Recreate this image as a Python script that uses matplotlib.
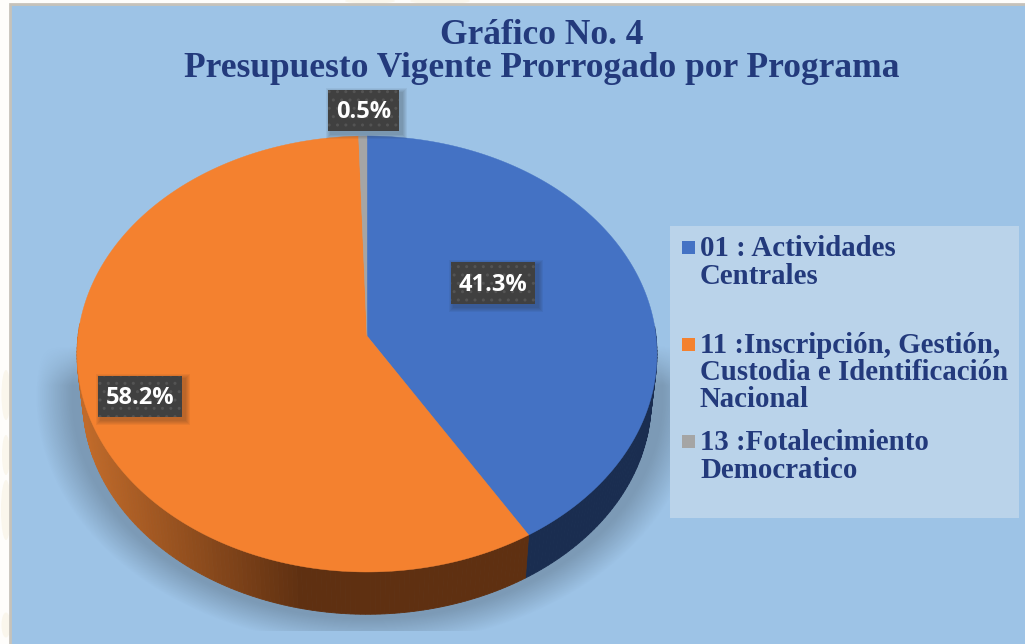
import numpy as np
import matplotlib
matplotlib.use('Agg')
import matplotlib.pyplot as plt
from matplotlib.patches import Rectangle, Ellipse
from matplotlib.colors import to_rgb

title_lines = ['Gráfico No. 4', 'Presupuesto Vigente Prorrogado por Programa']
values = [41.3, 58.2, 0.5]
colors = ['#4472c4', '#f4812f', '#a5a5a5']
legend_lines = [['01 : Actividades', 'Centrales'],
                ['11 :Inscripción, Gestión,', 'Custodia e Identificación', 'Nacional'],
                ['13 :Fotalecimiento', 'Democratico']]
navy = '#233a7c'
bg = '#9dc3e6'

plt.rcParams['font.family'] = ['Liberation Serif', 'DejaVu Serif']

fig = plt.figure(figsize=(10.25, 6.44), dpi=100, facecolor='#fefdfb')
ax = fig.add_axes([0, 0, 1, 1])
ax.set_xlim(0, 1025)
ax.set_ylim(644, 0)
ax.axis('off')

# faint watermark showing round the panel
for wx, wy, ww, wh in [(6, 395, 9, 50), (6, 455, 8, 40), (6, 510, 10, 60), (6, 625, 9, 25),
                       (370, 1, 50, 5), (440, 1, 60, 6)]:
    ax.add_patch(Ellipse((wx, wy), ww, wh, fc='#faf6ec', ec='none', zorder=0))

# panel
ax.add_patch(Rectangle((10, 4), 1020, 650, fc=bg, ec='#c6c2ba', lw=2, zorder=0.5))

# pie geometry, pixels
cx, cy = 367, 336
A, B, k = 289, 216.5, 0.0826
base_scale, base_dy = 0.98, 47


def project(frac, scale=1.0, dy=0):
    # frac runs clockwise from 12 o'clock
    t = 2 * np.pi * np.asarray(frac)
    x, y = np.sin(t), np.cos(t)
    w = 1 + k * y
    return cx + scale * A * x / w, cy + dy - scale * B * y / w


# soft shadow below the pie
yy, xx = np.mgrid[0:644, 0:1025]
r = np.sqrt(((xx - 367) / 332.0) ** 2 + ((yy - 396) / 250.0) ** 2)
alpha = np.clip((1 - r) / 0.11, 0, 1) * np.clip((yy - 345) / 40.0, 0, 1) * 0.21
alpha[yy > 630] = 0
rgba = np.zeros((644, 1025, 4))
rgba[..., 3] = alpha
ax.imshow(rgba, extent=(0, 1025, 644, 0), zorder=1, aspect='auto')
ax.set_xlim(0, 1025)
ax.set_ylim(644, 0)

# side wall, front half only
edges = np.concatenate([[0], np.cumsum(values)]) / sum(values)
for i in range(len(values)):
    n = max(int((edges[i + 1] - edges[i]) * 400), 2)
    fr = np.linspace(edges[i], edges[i + 1], n + 1)
    x0, y0 = project(fr)
    x1, y1 = project(fr, base_scale, base_dy)
    for j in range(n):
        if np.cos(2 * np.pi * fr[j]) > 0.05:
            continue
        if i == 1:
            m = np.clip((0.5 * (x0[j] + x0[j + 1]) - 85) / 215, 0, 1)
            c = (1 - m) * np.array(to_rgb('#c06a2a')) + m * np.array(to_rgb('#5f3011'))
        else:
            c = '#1a2d50'
        ax.fill([x0[j], x0[j + 1], x1[j + 1], x1[j]], [y0[j], y0[j + 1], y1[j + 1], y1[j]],
                color=c, lw=0.6, zorder=2)

# top face
for i in range(len(values)):
    fr = np.linspace(edges[i], edges[i + 1], 200)
    x0, y0 = project(fr)
    ax.fill(np.r_[cx, x0], np.r_[cy, y0], color=colors[i], lw=0.3, zorder=3)

# data labels
label_boxes = [(451, 262, 84, 42), (98, 376, 84, 41), (328, 90, 71, 41)]
for v, (bx, by, bw, bh) in zip(values, label_boxes):
    for s in range(5):
        grow = 5 - s
        ax.add_patch(Rectangle((bx + 3 - grow, by + 3 - grow), bw + 2 * grow, bh + 2 * grow,
                               fc='#202020', ec='none', alpha=0.06, zorder=4))
    ax.add_patch(Rectangle((bx, by), bw, bh, fc='#404040', ec='#545454', hatch='..', lw=0, zorder=5))
    ax.text(bx + bw / 2, by + bh / 2 + 1.5, f'{v:.1f}%', color='white', ha='center', va='center',
            family=['Open Sans', 'DejaVu Sans'], fontweight='bold', fontsize=17, zorder=6)

# title
ax.text(542, 35, title_lines[0], color=navy, ha='center', va='center', fontweight='bold', fontsize=25.5)
ax.text(542, 68, title_lines[1], color=navy, ha='center', va='center', fontweight='bold', fontsize=25.5)

# legend panel
ax.add_patch(Rectangle((670, 226), 349, 292, fc='#bad3ea', ec='none', zorder=2.5))
swatch_y = [241, 338, 435]
line_y = [[248, 276], [345, 372, 399], [442, 470]]
for i in range(3):
    ax.add_patch(Rectangle((682, swatch_y[i]), 13, 13, fc=colors[i], ec='none', zorder=3))
    for line, y in zip(legend_lines[i], line_y[i]):
        ax.text(700, y, line, color=navy, ha='left', va='center', fontweight='bold', fontsize=20.8, zorder=4)

plt.savefig('out.png', dpi=100, facecolor=fig.get_facecolor())
